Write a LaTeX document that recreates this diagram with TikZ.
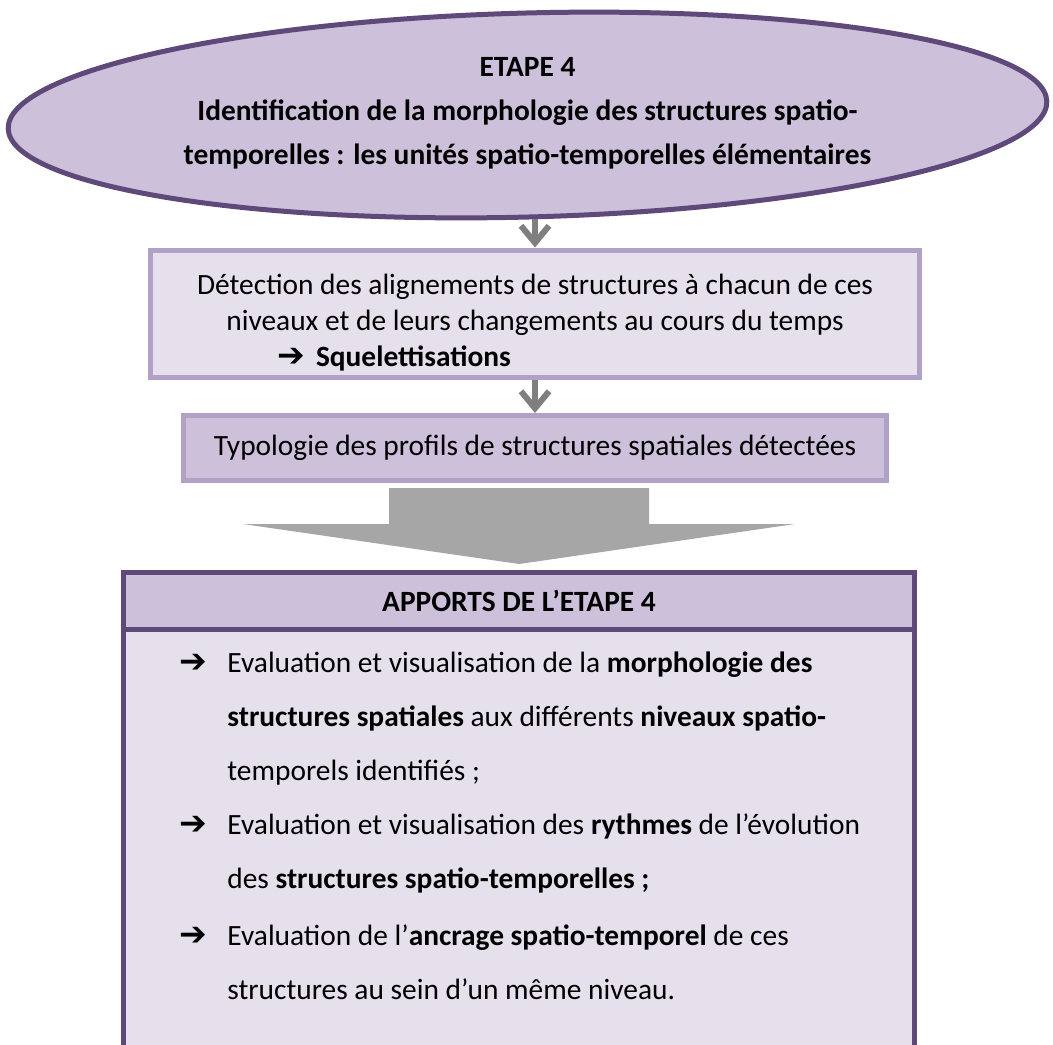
\documentclass[tikz,border=0pt]{standalone}
\usepackage{fontspec}
\setmainfont{Carlito}
\newfontfamily\dejavu{DejaVu Sans}
\usepackage{xcolor}
\usepackage{tikz}
\usetikzlibrary{arrows.meta, positioning, shapes.geometric}
\definecolor{plum}      {HTML}{5F497A}
\definecolor{lilac}     {HTML}{CCC0DA}
\definecolor{palelilac} {HTML}{E5E0EC}
\definecolor{edgelilac} {HTML}{B2A1C7}
\definecolor{arrowgray} {HTML}{7F7F7F}
\definecolor{blockgray} {HTML}{A6A6A6}
\newcommand{\heavyarrow}{{\dejavu\fontsize{16.5}{16.5}\selectfont ➔}}
\newcommand{\bularrow}{\makebox[24pt][l]{\heavyarrow}}
\newcommand{\bulind}{\hspace*{24pt}}

\begin{document}
\begin{tikzpicture}[x=0.5pt, y=-0.5pt,
    etape/.style={ellipse, draw=plum, line width=2.5pt, fill=lilac,
                  minimum width=519.5pt, minimum height=102pt, inner sep=0pt},
    etapetext/.style={align=flush center, inner sep=0pt,
                      font=\bfseries\fontsize{14.7}{22}\selectfont},
    box/.style={draw=edgelilac, line width=2.5pt, align=flush center,
                font=\fontsize{14.7}{18}\selectfont},
    apbox/.style={draw=plum, line width=2.5pt, minimum width=395.5pt, inner sep=0pt},
    arr/.style={-{Straight Barb[length=8.5pt, width=14pt]}, line width=3pt, color=arrowgray},
    bulletline/.style={anchor=base west, inner sep=0pt, align=flush left,
                       font=\fontsize{14.7}{27}\selectfont},
  ]
    \useasboundingbox (0,0) rectangle (1053,1044);

    \node[etape, rotate=1.5] (etape) at (527.5,115) {};
    \node[etapetext] (etapetitle) at (527.5,113)
      {ETAPE 4\\Identification de la morphologie des structures spatio-\\temporelles : les unités spatio-temporelles élémentaires};
    \node[box, fill=palelilac, minimum width=384.5pt, minimum height=63.5pt, text width=370pt] (detect) at (535,314)
      {\rule{0pt}{19pt}Détection des alignements de structures à chacun de ces\\niveaux et de leurs changements au cours du temps\\%
       \makebox[370pt][l]{\hspace*{56pt}\makebox[19.5pt][l]{\heavyarrow}\textbf{Squelettisations}}};
    \node[box, fill=lilac, minimum width=351.5pt, minimum height=32.5pt] (typo) at (535,448)
      {Typologie des profils de structures spatiales détectées};

    \draw[arr] (detect.north |- etape.south) -- (detect.north);
    \draw[arr] (detect.south) -- (typo.north);

    % large block arrow
    \fill[blockgray] (389,488) -- (649,488) -- (649,524) -- (795,524) -- (519,564)
      -- (243,524) -- (389,524) -- cycle;

    \node[apbox, fill=palelilac, minimum height=248.75pt] (apports) at (519,821.25) {};
    \node[apbox, fill=lilac, minimum height=28.5pt, anchor=north,
          font=\bfseries\fontsize{14.7}{18}\selectfont] (apportstitle) at (apports.north)
      {APPORTS DE L’ETAPE 4};

    \node[bulletline] (morpho) at (179,780)
      {\bularrow Evaluation et visualisation de la \textbf{morphologie des}\\
       \bulind\textbf{structures spatiales} aux différents \textbf{niveaux spatio-}\\
       \bulind temporels identifiés ;};
    \node[bulletline] (rythmes) at (179,888.5)
      {\bularrow Evaluation et visualisation des \textbf{rythmes} de l’évolution\\
       \bulind des \textbf{structures spatio-temporelles ;}};
    \node[bulletline] (ancrage) at (179,999.5)
      {\bularrow Evaluation de l’\textbf{ancrage spatio-temporel} de ces\\
       \bulind structures au sein d’un même niveau.};
  \end{tikzpicture}
\end{document}
